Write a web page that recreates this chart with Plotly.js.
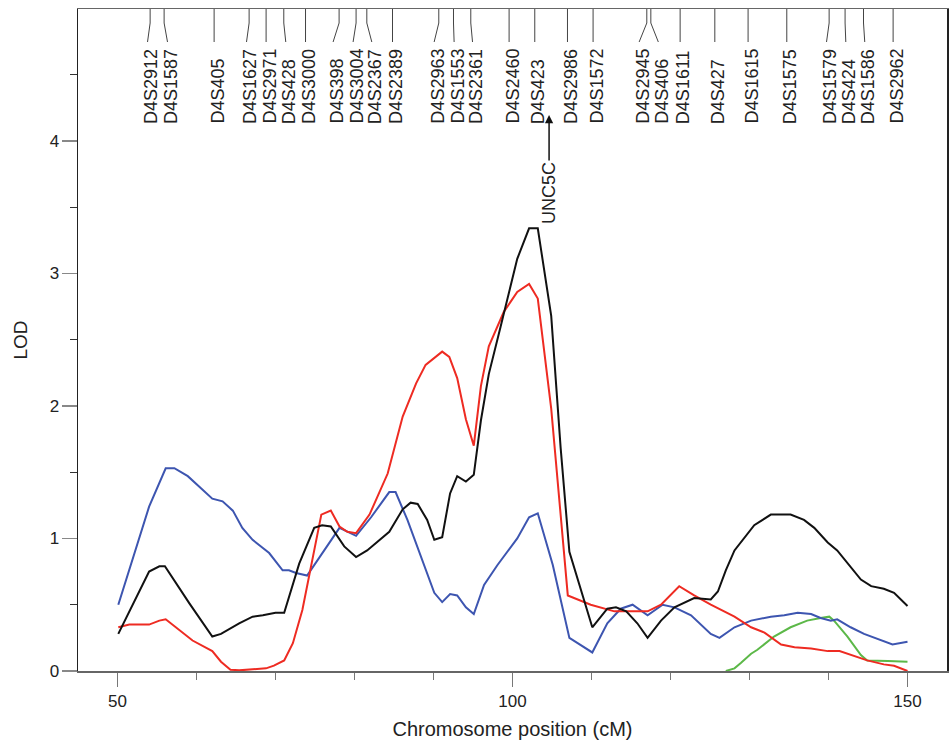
<!DOCTYPE html>
<html>
<head>
<meta charset="utf-8">
<script src="https://cdn.plot.ly/plotly-3.0.1.min.js"></script>
<style>
html,body{margin:0;padding:0;background:#fff;}
#chart{width:951px;height:740px;}
</style>
</head>
<body>
<div id="chart"></div>
<script>
// ---- data ----
const blackX = [50.1, 54.0, 55.3, 56.0, 59.1, 62.0, 63.1, 65.4, 67.1, 68.4, 70.0, 71.1, 73.0, 74.9, 75.9, 77.0, 78.7, 80.2, 81.6, 84.4, 86.1, 87.1, 88.0, 89.2, 90.1, 91.1, 92.1, 93.0, 94.1, 95.1, 96.0, 97.0, 98.5, 100.6, 102.1, 103.2, 104.9, 106.1, 107.2, 110.1, 112.0, 113.1, 114.4, 115.8, 117.1, 118.8, 120.5, 123.0, 125.1, 126.0, 127.0, 128.1, 130.6, 132.7, 135.2, 136.9, 138.2, 139.9, 141.1, 142.8, 144.1, 145.4, 147.0, 148.3, 150.0];
const blackY = [0.28, 0.75, 0.79, 0.79, 0.51, 0.26, 0.28, 0.36, 0.41, 0.42, 0.44, 0.44, 0.81, 1.08, 1.10, 1.09, 0.94, 0.86, 0.91, 1.05, 1.22, 1.27, 1.26, 1.14, 0.99, 1.01, 1.34, 1.47, 1.43, 1.48, 1.89, 2.24, 2.60, 3.11, 3.34, 3.34, 2.68, 1.68, 0.90, 0.33, 0.47, 0.48, 0.45, 0.36, 0.25, 0.38, 0.48, 0.55, 0.54, 0.60, 0.76, 0.91, 1.10, 1.18, 1.18, 1.14, 1.08, 0.97, 0.91, 0.79, 0.69, 0.64, 0.62, 0.59, 0.49];

const redX = [50.1, 51.5, 54.0, 55.3, 56.1, 57.8, 59.5, 62.0, 63.1, 64.3, 65.4, 68.8, 69.8, 71.1, 72.2, 73.4, 74.7, 75.8, 77.0, 78.1, 79.1, 80.2, 81.9, 84.2, 86.1, 87.8, 89.0, 91.1, 92.0, 93.0, 94.1, 95.1, 96.0, 97.0, 98.9, 100.6, 102.1, 103.2, 104.9, 107.0, 109.9, 112.9, 117.1, 118.8, 121.1, 123.0, 125.1, 128.1, 130.2, 131.9, 134.0, 135.7, 137.8, 139.9, 141.4, 142.8, 144.9, 147.0, 148.3, 150.0];
const redY = [0.33, 0.35, 0.35, 0.38, 0.39, 0.31, 0.23, 0.15, 0.07, 0.01, 0.005, 0.02, 0.04, 0.08, 0.21, 0.46, 0.84, 1.18, 1.21, 1.09, 1.05, 1.04, 1.18, 1.49, 1.92, 2.17, 2.31, 2.41, 2.37, 2.21, 1.90, 1.70, 2.15, 2.45, 2.71, 2.86, 2.92, 2.81, 1.98, 0.57, 0.50, 0.45, 0.45, 0.50, 0.64, 0.57, 0.50, 0.41, 0.33, 0.29, 0.20, 0.18, 0.17, 0.15, 0.15, 0.12, 0.08, 0.05, 0.04, 0.0];

const blueX = [50.1, 54.0, 56.1, 57.2, 58.9, 61.2, 62.0, 63.3, 64.6, 65.8, 67.1, 69.2, 70.9, 71.7, 72.6, 74.0, 76.2, 78.1, 80.2, 82.1, 84.4, 85.2, 86.7, 88.4, 90.1, 91.1, 92.1, 93.0, 94.1, 95.1, 96.4, 98.1, 100.6, 102.1, 103.2, 105.1, 107.2, 110.1, 112.0, 113.7, 115.2, 117.1, 119.0, 120.5, 122.6, 125.1, 126.2, 128.1, 130.2, 132.7, 134.4, 136.1, 137.8, 139.0, 140.3, 141.1, 142.8, 144.5, 146.2, 148.1, 150.0];
const blueY = [0.50, 1.24, 1.53, 1.53, 1.47, 1.34, 1.30, 1.28, 1.21, 1.08, 0.99, 0.89, 0.76, 0.76, 0.74, 0.72, 0.91, 1.08, 1.02, 1.16, 1.35, 1.35, 1.14, 0.86, 0.59, 0.52, 0.58, 0.57, 0.48, 0.43, 0.65, 0.80, 1.00, 1.16, 1.19, 0.80, 0.25, 0.14, 0.36, 0.47, 0.50, 0.42, 0.50, 0.48, 0.42, 0.28, 0.25, 0.33, 0.38, 0.41, 0.42, 0.44, 0.43, 0.40, 0.38, 0.39, 0.33, 0.28, 0.24, 0.20, 0.22];

const greenX = [127.0, 128.1, 128.9, 130.2, 131.0, 133.1, 135.2, 137.3, 139.0, 140.1, 140.7, 142.4, 144.1, 144.9, 147.5, 150.0];
const greenY = [0.0, 0.02, 0.06, 0.13, 0.16, 0.26, 0.33, 0.38, 0.40, 0.41, 0.38, 0.26, 0.12, 0.08, 0.075, 0.07];

// markers: name, true position (cM), label position (cM)
const markerNames = ["D4S2912","D4S1587","D4S405","D4S1627","D4S2971","D4S428","D4S3000","D4S398","D4S3004","D4S2367","D4S2389","D4S2963","D4S1553","D4S2361","D4S2460","D4S423","D4S2986","D4S1572","D4S2945","D4S406","D4S1611","D4S427","D4S1615","D4S1575","D4S1579","D4S424","D4S1586","D4S2962"];
const markerPos = [54.13, 55.90, 62.23, 66.66, 68.81, 71.05, 73.80, 78.05, 80.20, 81.56, 84.81, 90.67, 92.53, 94.72, 99.57, 102.82, 106.96, 110.20, 117.00, 117.51, 121.22, 125.61, 129.82, 134.72, 140.08, 142.10, 144.43, 148.18];
const labelPos = [53.80, 56.33, 62.23, 66.33, 68.81, 71.30, 73.80, 77.29, 79.82, 82.19, 84.81, 90.08, 92.61, 94.94, 99.57, 102.82, 106.96, 110.20, 116.03, 118.46, 121.22, 125.61, 129.82, 134.72, 139.75, 142.19, 144.59, 148.18];

const geneName = "UNC5C";
const genePos = 104.63;

const xTitle = "Chromosome position (cM)";
const yTitle = "LOD";

// ---- figure ----
const FONT = "Liberation Sans, Arial, sans-serif";
function tr(x, y, color){
  return {x:x, y:y, type:'scatter', mode:'lines', line:{color:color, width:2}, hoverinfo:'skip', showlegend:false};
}
const data = [
  tr(greenX, greenY, '#5cb848'),
  tr(blueX, blueY, '#3d55b0'),
  tr(redX, redY, '#ee2b22'),
  tr(blackX, blackY, '#111111')
];

const plotH = 740 - 9 - 69;
const yKink = 1 - 14/plotH;
const yEnd = 1 - 33/plotH;
const yText = 1 - 117/plotH;

const shapes = [];
const annotations = [];
markerNames.forEach((n, i) => {
  shapes.push({type:'line', xref:'x', yref:'paper', x0:markerPos[i], x1:markerPos[i], y0:1, y1:yKink, line:{color:'#444', width:1}});
  shapes.push({type:'line', xref:'x', yref:'paper', x0:markerPos[i], x1:labelPos[i], y0:yKink, y1:yEnd, line:{color:'#444', width:1}});
  annotations.push({text:n, x:labelPos[i], xref:'x', y:yText, yref:'paper', textangle:-90, xanchor:'center', yanchor:'bottom', showarrow:false, xshift:3, font:{family:FONT, size:18, color:'#222'}});
});

annotations.push({text:geneName, x:genePos, xref:'x', y:1 - 106/plotH, yref:'paper', textangle:-90, showarrow:true, ax:0, ay:78, arrowhead:2, arrowsize:1.1, arrowwidth:1.5, arrowcolor:'#111', standoff:0, font:{family:FONT, size:18, color:'#222'}});

const layout = {
  width:951, height:740,
  margin:{l:78, r:4, t:9, b:69},
  paper_bgcolor:'#fff', plot_bgcolor:'#fff',
  font:{family:FONT, color:'#222'},
  showlegend:false,
  xaxis:{
    range:[45,155], tickmode:'linear', tick0:50, dtick:50,
    ticks:'outside', ticklen:14, tickwidth:1.5, tickcolor:'#777',
    minor:{ticks:'outside', tick0:50, dtick:10, ticklen:7, tickwidth:1.5, tickcolor:'#777'},
    showline:true, linecolor:'#666', linewidth:1.5, mirror:true,
    showgrid:false, zeroline:false,
    tickfont:{family:FONT, size:17, color:'#222'},
    title:{text:xTitle, font:{family:FONT, size:20, color:'#222'}, standoff:12}
  },
  yaxis:{
    range:[0,4.995], tickmode:'linear', tick0:0, dtick:1,
    ticks:'outside', ticklen:15, tickwidth:1.5, tickcolor:'#888',
    ticklabelstandoff:-1,
    minor:{ticks:'outside', tick0:0, dtick:0.5, ticklen:7, tickwidth:1.2, tickcolor:'#333'},
    showline:true, linecolor:'#222', linewidth:1.5, mirror:true,
    showgrid:false, zeroline:false,
    tickfont:{family:FONT, size:17, color:'#222'},
    title:{text:yTitle, font:{family:FONT, size:19, color:'#222'}, standoff:17}
  },
  shapes:shapes,
  annotations:annotations
};

Plotly.newPlot('chart', data, layout, {staticPlot:true, displayModeBar:false});
</script>
</body>
</html>
